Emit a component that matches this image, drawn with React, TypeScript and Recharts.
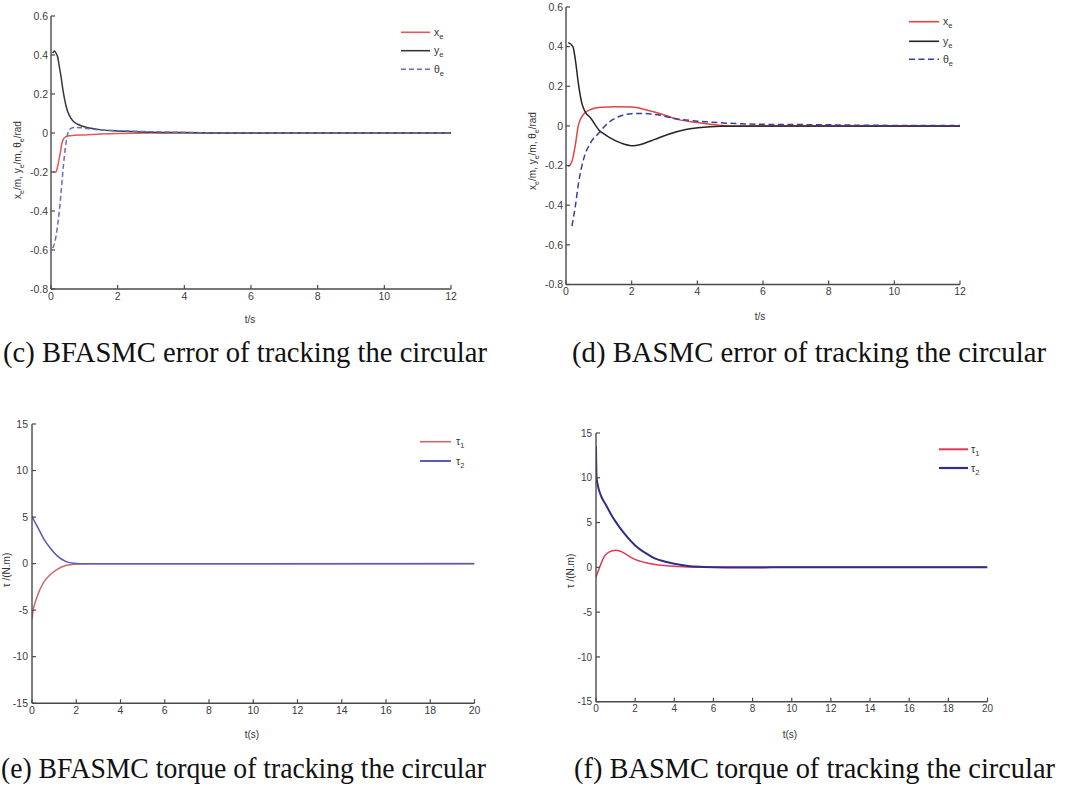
import React from 'react';
import { LineChart, Line, XAxis, YAxis } from 'recharts';

// ---------- ticks ----------
const ERR_X_TICKS = [0, 2, 4, 6, 8, 10, 12];
const ERR_Y_TICKS = [-0.8, -0.6, -0.4, -0.2, 0, 0.2, 0.4, 0.6];
const TQ_X_TICKS = [0, 2, 4, 6, 8, 10, 12, 14, 16, 18, 20];
const TQ_Y_TICKS = [-15, -10, -5, 0, 5, 10, 15];

// ---------- (c) BFASMC error ----------
const C_XE_T = [0.05, 0.15, 0.2, 0.27, 0.33, 0.4, 0.5, 0.7, 1.0, 1.5, 2, 3, 12];
const C_XE_V = [-0.2, -0.2, -0.17, -0.11, -0.05, -0.025, -0.015, -0.012, -0.01, -0.005, -0.002, 0, 0];
const C_YE_T = [0.05, 0.1, 0.15, 0.2, 0.25, 0.3, 0.35, 0.4, 0.45, 0.5, 0.6, 0.7, 0.8, 1.0, 1.2, 1.5, 2, 3, 4, 5, 12];
const C_YE_V = [0.41, 0.42, 0.41, 0.39, 0.34, 0.29, 0.23, 0.18, 0.14, 0.11, 0.075, 0.055, 0.045, 0.032, 0.024, 0.016, 0.01, 0.004, 0.002, 0, 0];
const C_TH_T = [0.05, 0.1, 0.15, 0.2, 0.25, 0.3, 0.35, 0.4, 0.45, 0.5, 0.55, 0.6, 0.7, 0.9, 1.2, 1.5, 2, 2.5, 3, 4, 5, 12];
const C_TH_V = [-0.59, -0.57, -0.53, -0.47, -0.4, -0.31, -0.21, -0.12, -0.05, -0.005, 0.015, 0.024, 0.028, 0.027, 0.02, 0.016, 0.012, 0.009, 0.007, 0.003, 0.001, 0];

// ---------- (d) BASMC error ----------
const D_XE_T = [0.07, 0.18, 0.28, 0.38, 0.54, 0.75, 1.06, 1.5, 2.0, 2.4, 2.9, 3.4, 4.0, 4.6, 5, 6, 9, 12];
const D_XE_V = [-0.205, -0.18, -0.1, 0.005, 0.06, 0.083, 0.094, 0.097, 0.095, 0.083, 0.06, 0.033, 0.017, 0.005, 0, -0.002, -0.002, -0.002];
const D_YE_T = [0.07, 0.21, 0.28, 0.38, 0.49, 0.59, 0.75, 1.0, 1.2, 1.4, 1.7, 2.0, 2.3, 2.7, 3.1, 3.65, 4.1, 4.7, 6, 12];
const D_YE_V = [0.42, 0.4, 0.34, 0.21, 0.11, 0.07, 0.04, -0.02, -0.045, -0.065, -0.088, -0.1, -0.092, -0.068, -0.043, -0.018, -0.008, -0.002, 0, 0];
const D_TH_T = [0.18, 0.28, 0.38, 0.54, 0.75, 1.0, 1.26, 1.58, 2.0, 2.4, 2.8, 3.3, 4.0, 4.8, 6, 7.8, 9.4, 12];
const D_TH_V = [-0.505, -0.41, -0.29, -0.165, -0.085, -0.036, 0.012, 0.045, 0.062, 0.063, 0.056, 0.038, 0.024, 0.015, 0.008, 0.006, 0.003, 0.002];

// ---------- (e) BFASMC torque ----------
const E_T1_T = [0, 0.05, 0.1, 0.23, 0.53, 0.84, 1.14, 1.52, 1.89, 2.3, 20];
const E_T1_V = [-6.0, -5.0, -4.5, -3.55, -2.0, -1.14, -0.62, -0.2, -0.07, -0.02, 0];
const E_T2_T = [0, 0.1, 0.23, 0.53, 0.84, 1.14, 1.52, 1.89, 2.35, 3, 20];
const E_T2_V = [5.1, 4.6, 4.03, 2.66, 1.62, 0.83, 0.24, 0.03, -0.03, -0.03, -0.03];

// ---------- (f) BASMC torque ----------
const F_T1_T = [0, 0.2, 0.41, 0.66, 1.0, 1.25, 1.6, 1.93, 2.44, 3.12, 4.0, 4.8, 6, 7, 8.5, 9, 20];
const F_T1_V = [-1.1, 0.09, 1.16, 1.7, 1.92, 1.8, 1.36, 0.95, 0.57, 0.29, 0.11, 0.04, 0, -0.05, -0.05, 0, 0];
const F_T2_T = [0, 0.03, 0.08, 0.25, 0.5, 0.8, 1.0, 1.4, 2.0, 2.6, 3.0, 3.5, 4.0, 4.7, 5.5, 6.5, 20];
const F_T2_V = [13.5, 10, 9.3, 8.0, 7.0, 5.8, 5.1, 3.9, 2.45, 1.5, 1.0, 0.65, 0.4, 0.15, 0.05, 0, 0];

const AX = '#4a4a4a';
const TICK_TXT = '#3c3c3c';
const SANS = '"Liberation Sans", Arial, sans-serif';
const SERIF = '"Liberation Serif", "DejaVu Serif", serif';

type Series = { t: number[]; v: number[]; color: string; dash?: string; width?: number };
type Rect = { x1: number; x2: number; y1: number; y2: number };

const toData = (t: number[], v: number[]) => t.map((tt, i) => ({ t: tt, v: v[i] }));

const XTick = (props: any) => {
  const { x, y, payload, m, fs } = props;
  const ay = y - m;
  return (
    <g>
      <line x1={x} x2={x} y1={ay} y2={ay - 4} stroke={AX} strokeWidth={1.2} />
      <text x={x} y={y} dy="0.75em" textAnchor="middle" fontSize={fs} fontFamily={SANS} fill={TICK_TXT}>
        {String(payload.value)}
      </text>
    </g>
  );
};

const YTick = (props: any) => {
  const { x, y, payload, m, fs } = props;
  const ax = x + m;
  return (
    <g>
      <line x1={ax} x2={ax + 4} y1={y} y2={y} stroke={AX} strokeWidth={1.2} />
      <text x={x} y={y} dy="0.36em" textAnchor="end" fontSize={fs} fontFamily={SANS} fill={TICK_TXT}>
        {String(payload.value)}
      </text>
    </g>
  );
};

function Panel(props: {
  plot: Rect;
  xDomain: [number, number];
  xTicks: number[];
  yDomain: [number, number];
  yTicks: number[];
  series: Series[];
  fs: number;
  xm: number;
  ym: number;
}) {
  const { plot, xDomain, xTicks, yDomain, yTicks, series, fs, xm, ym } = props;
  const yW = 40;
  const xH = 20;
  const left = plot.x1 - 50;
  const top = plot.y1 - 10;
  const width = plot.x2 - plot.x1 + 60;
  const height = plot.y2 - plot.y1 + 35;
  const margin = { top: 10, left: 10, right: 10, bottom: 15 };
  return (
    <div style={{ position: 'absolute', left, top, width, height }}>
      <LineChart width={width} height={height} margin={margin} style={{ overflow: 'visible' }}>
        <XAxis
          type="number"
          dataKey="t"
          domain={xDomain}
          ticks={xTicks}
          interval={0}
          allowDataOverflow
          height={xH}
          tickSize={0}
          tickMargin={xm}
          tickLine={false}
          axisLine={{ stroke: AX, strokeWidth: 1.4 }}
          tick={(p: any) => <XTick {...p} m={xm} fs={fs} />}
        />
        <YAxis
          type="number"
          domain={yDomain}
          ticks={yTicks}
          interval={0}
          allowDataOverflow
          width={yW}
          tickSize={0}
          tickMargin={ym}
          tickLine={false}
          axisLine={{ stroke: AX, strokeWidth: 1.4 }}
          tick={(p: any) => <YTick {...p} m={ym} fs={fs} />}
        />
        {series.map((s, i) => (
          <Line
            key={i}
            data={toData(s.t, s.v)}
            dataKey="v"
            type="monotone"
            stroke={s.color}
            strokeWidth={s.width ?? 1.5}
            strokeDasharray={s.dash}
            dot={false}
            activeDot={false}
            isAnimationActive={false}
          />
        ))}
      </LineChart>
    </div>
  );
}

function LegendRow({ x1, x2, y, color, dash, width, base, sub, tx }: any) {
  const fs = 10.5;
  return (
    <g>
      <line x1={x1} x2={x2} y1={y} y2={y} stroke={color} strokeWidth={width ?? 1.6} strokeDasharray={dash} />
      <text x={tx} y={y + 3.5} fontSize={fs} fontFamily={SANS} fill="#333">
        <tspan>{base}</tspan>
        <tspan dy={3} fontSize={7.5}>{sub}</tspan>
      </text>
    </g>
  );
}

function ErrYLabel({ cx, cy }: { cx: number; cy: number }) {
  const fs = 10;
  return (
    <text
      x={cx + 3.5}
      y={cy}
      transform={`rotate(-90, ${cx + 3.5}, ${cy})`}
      textAnchor="middle"
      fontSize={fs}
      fontFamily={SANS}
      fill="#333"
    >
      <tspan>x</tspan>
      <tspan dy={3} fontSize={7}>e</tspan>
      <tspan dy={-3}>/m, y</tspan>
      <tspan dy={3} fontSize={7}>e</tspan>
      <tspan dy={-3}>/m, θ</tspan>
      <tspan dy={3} fontSize={7}>e</tspan>
      <tspan dy={-3}>/rad</tspan>
    </text>
  );
}

function TqYLabel({ cx, cy }: { cx: number; cy: number }) {
  return (
    <text
      x={cx + 3.5}
      y={cy}
      transform={`rotate(-90, ${cx + 3.5}, ${cy})`}
      textAnchor="middle"
      fontSize={10}
      fontFamily={SANS}
      fill="#333"
    >
      τ /(N.m)
    </text>
  );
}

function XLabel({ cx, cy, text }: { cx: number; cy: number; text: string }) {
  return (
    <text x={cx} y={cy + 3.5} textAnchor="middle" fontSize={10} fontFamily={SANS} fill="#333">
      {text}
    </text>
  );
}

function Caption({ x, y, len, text }: { x: number; y: number; len: number; text: string }) {
  return (
    <text x={x} y={y} textLength={len} lengthAdjust="spacingAndGlyphs" fontSize={29} fontFamily={SERIF} fill="#111">
      {text}
    </text>
  );
}

export default function App() {
  const cSeries: Series[] = [
    { t: C_XE_T, v: C_XE_V, color: '#e05a5a' },
    { t: C_YE_T, v: C_YE_V, color: '#383838' },
    { t: C_TH_T, v: C_TH_V, color: '#6170c2', dash: '5 3' },
  ];
  const dSeries: Series[] = [
    { t: D_XE_T, v: D_XE_V, color: '#e04545' },
    { t: D_YE_T, v: D_YE_V, color: '#252525' },
    { t: D_TH_T, v: D_TH_V, color: '#34409c', dash: '6 3.5' },
  ];
  const eSeries: Series[] = [
    { t: E_T1_T, v: E_T1_V, color: '#c96a6a' },
    { t: E_T2_T, v: E_T2_V, color: '#5a5ab8' },
  ];
  const fSeries: Series[] = [
    { t: F_T1_T, v: F_T1_V, color: '#e03a55' },
    { t: F_T2_T, v: F_T2_V, color: '#2e2e8a', width: 2 },
  ];

  return (
    <div style={{ position: 'absolute', left: 0, top: 0, width: 1066, height: 787, background: '#fff', overflow: 'hidden' }}>
      <Panel
        plot={{ x1: 51, x2: 451, y1: 16, y2: 299 }}
        xDomain={[0, 12]}
        xTicks={ERR_X_TICKS}
        yDomain={[-0.8, 0.6]}
        yTicks={ERR_Y_TICKS}
        series={cSeries}
        fs={10.5}
        xm={3}
        ym={3}
      />
      <Panel
        plot={{ x1: 566, x2: 960, y1: 7, y2: 294.5 }}
        xDomain={[0, 12]}
        xTicks={ERR_X_TICKS}
        yDomain={[-0.8, 0.6]}
        yTicks={ERR_Y_TICKS}
        series={dSeries}
        fs={10.5}
        xm={3}
        ym={3}
      />
      <Panel
        plot={{ x1: 31.5, x2: 474, y1: 424.3, y2: 713.5 }}
        xDomain={[0, 20]}
        xTicks={TQ_X_TICKS}
        yDomain={[-15, 15]}
        yTicks={TQ_Y_TICKS}
        series={eSeries}
        fs={10.5}
        xm={3}
        ym={4}
      />
      <Panel
        plot={{ x1: 595.5, x2: 987, y1: 433.3, y2: 712 }}
        xDomain={[0, 20]}
        xTicks={TQ_X_TICKS}
        yDomain={[-15, 15]}
        yTicks={TQ_Y_TICKS}
        series={fSeries}
        fs={10}
        xm={3}
        ym={4}
      />
      <svg
        width={1066}
        height={787}
        style={{ position: 'absolute', left: 0, top: 0, pointerEvents: 'none' }}
      >
        {/* legends */}
        <LegendRow x1={401} x2={430} y={32.3} color="#e05a5a" base="x" sub="e" tx={434} />
        <LegendRow x1={401} x2={430} y={50.7} color="#383838" base="y" sub="e" tx={434} />
        <LegendRow x1={401} x2={430} y={69.3} color="#6170c2" dash="5 3" base="θ" sub="e" tx={434} />

        <LegendRow x1={909} x2={939} y={21.7} color="#e04545" base="x" sub="e" tx={943} />
        <LegendRow x1={909} x2={939} y={41.3} color="#252525" base="y" sub="e" tx={943} />
        <LegendRow x1={909} x2={939} y={59.3} color="#34409c" dash="6 3.5" base="θ" sub="e" tx={943} />

        <LegendRow x1={420} x2={451} y={441.7} color="#c96a6a" base="τ" sub="1" tx={456} />
        <LegendRow x1={420} x2={451} y={461} color="#5a5ab8" width={2} base="τ" sub="2" tx={456} />

        <LegendRow x1={939} x2={968} y={449.3} color="#e03a55" width={2} base="τ" sub="1" tx={971} />
        <LegendRow x1={939} x2={968} y={468} color="#2e2e8a" width={2.2} base="τ" sub="2" tx={971} />

        {/* axis labels */}
        <ErrYLabel cx={17} cy={160} />
        <ErrYLabel cx={532} cy={151} />
        <XLabel cx={250} cy={319} text="t/s" />
        <XLabel cx={760} cy={316} text="t/s" />
        <TqYLabel cx={6} cy={570} />
        <TqYLabel cx={570} cy={571} />
        <XLabel cx={252} cy={734} text="t(s)" />
        <XLabel cx={790} cy={734} text="t(s)" />

        {/* captions */}
        <Caption x={3} y={362} len={484} text="(c) BFASMC error of tracking the circular" />
        <Caption x={572} y={362} len={474} text="(d) BASMC error of tracking the circular" />
        <Caption x={1} y={778} len={485} text="(e) BFASMC torque of tracking the circular" />
        <Caption x={574} y={778} len={481} text="(f) BASMC torque of tracking the circular" />
      </svg>
    </div>
  );
}
